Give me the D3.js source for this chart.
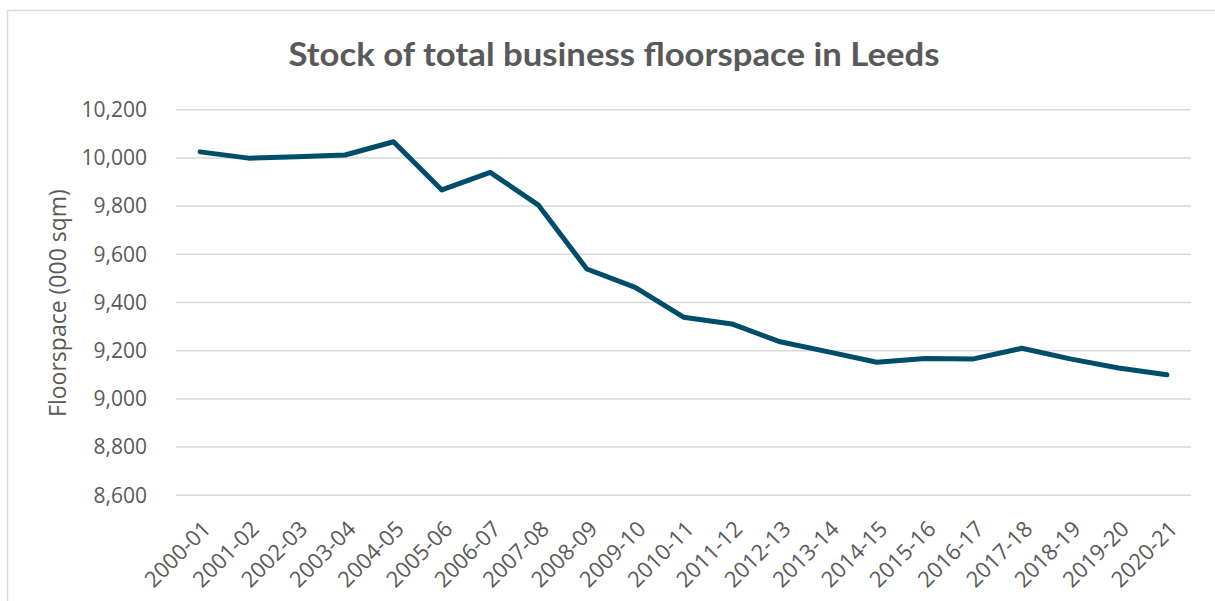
<!DOCTYPE html>
<html>
<head>
<meta charset="utf-8">
<script src="https://cdn.jsdelivr.net/npm/d3@7"></script>
<style>
  body { margin: 0; background: #fff; }
  svg { display: block; }
</style>
</head>
<body>
<svg width="1215" height="601"></svg>
<script>
const years = ["2000-01","2001-02","2002-03","2003-04","2004-05","2005-06","2006-07",
  "2007-08","2008-09","2009-10","2010-11","2011-12","2012-13","2013-14","2014-15",
  "2015-16","2016-17","2017-18","2018-19","2019-20","2020-21"];
const floorspace = [10025, 9999, 10005, 10012, 10067, 9867, 9940, 9804, 9539, 9463,
  9339, 9311, 9237, 9195, 9152, 9168, 9166, 9210, 9166, 9128, 9100];
const yTicks = [8600, 8800, 9000, 9200, 9400, 9600, 9800, 10000, 10200];

const svg = d3.select("svg");
const grey = "#595959";
const titleFont = "Lato, 'Open Sans', sans-serif";
const font = "'Open Sans', sans-serif";

// outer chart border (cropped at right/bottom)
svg.append("rect")
  .attr("x", 7.5).attr("y", 10.5)
  .attr("width", 1300).attr("height", 700)
  .attr("fill", "none").attr("stroke", "#d9d9d9").attr("stroke-width", 1.5);

const x = d3.scaleBand().domain(years).range([176, 1191]);
const y = d3.scaleLinear().domain([8600, 10200]).range([495.3, 109.7]);

// gridlines
svg.append("g")
  .selectAll("line")
  .data(yTicks)
  .join("line")
  .attr("x1", 176).attr("x2", 1191)
  .attr("y1", d => y(d)).attr("y2", d => y(d))
  .attr("stroke", "#d9d9d9").attr("stroke-width", 1.5);

// y axis
const yAxis = svg.append("g")
  .attr("transform", "translate(176,0)")
  .call(d3.axisLeft(y).tickValues(yTicks).tickSize(0).tickPadding(29).tickFormat(d3.format(",")));
yAxis.select(".domain").remove();
yAxis.selectAll("text")
  .attr("fill", grey).style("font-family", font).style("font-size", "21px");

// x axis
const xAxis = svg.append("g")
  .attr("transform", "translate(0,495.3)")
  .call(d3.axisBottom(x).tickSize(0).tickPadding(0));
xAxis.select(".domain").remove();
xAxis.selectAll("text")
  .attr("fill", grey).style("font-family", font).style("font-size", "22px")
  .attr("text-anchor", "end")
  .attr("dy", 0)
  .attr("transform", "translate(12,35) rotate(-45)");

// line
const line = d3.line()
  .x((d, i) => x(years[i]) + x.bandwidth() / 2)
  .y(d => y(d));

svg.append("path")
  .datum(floorspace)
  .attr("d", line)
  .attr("fill", "none")
  .attr("stroke", "#004d6a")
  .attr("stroke-width", 5)
  .attr("stroke-linejoin", "round")
  .attr("stroke-linecap", "round");

// title
svg.append("text")
  .attr("x", 614).attr("y", 66)
  .attr("text-anchor", "middle")
  .attr("fill", grey)
  .attr("textLength", 651).attr("lengthAdjust", "spacingAndGlyphs")
  .style("font-family", titleFont).style("font-weight", "bold").style("font-size", "33px")
  .text("Stock of total business floorspace in Leeds");

// y axis title
svg.append("text")
  .attr("transform", "translate(66,303) rotate(-90)")
  .attr("text-anchor", "middle")
  .attr("fill", grey)
  .style("font-family", font).style("font-size", "23px")
  .text("Floorspace (000 sqm)");
</script>
</body>
</html>
